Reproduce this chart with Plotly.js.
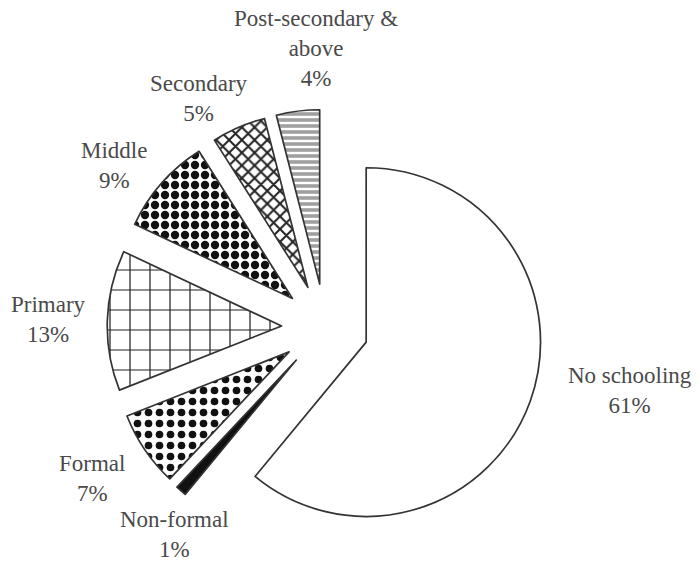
<!DOCTYPE html>
<html>
<head>
<meta charset="utf-8">
<script src="https://cdn.plot.ly/plotly-3.0.1.min.js"></script>
<style>html,body{margin:0;padding:0;background:#fff;}#chart{width:700px;height:561px;}</style>
</head>
<body>
<div id="chart"></div>
<script>
// Data
var categories = ["No schooling", "Non-formal", "Formal", "Primary", "Middle", "Secondary", "Post-secondary &<br>above"];
var shares = [61, 1, 7, 13, 9, 5, 4];

// Styles
var fills = ["#ffffff", "#111111", "#ffffff", "#ffffff", "#ffffff", "#ffffff", "#a0a0a0"];
var shapes = ["", "", ".", "+", ".", "x", "-"];
var fgColors = ["#000", "#000", "#111", "#222", "#111", "#222", "#ffffff"];
var sizes = [8, 8, 11, 20, 10, 9, 6];
var solidities = [0.3, 0.3, 0.38, 0.12, 0.55, 0.4, 0.4];
var pulls = [0.25, 0.25, 0.25, 0.25, 0.25, 0.25, 0.25];

// Label placement (paper pixels of each label's centre), layout only
var labelPx = [[630, 390], [174, 534], [92, 478], [48, 319], [114, 165], [199, 98], [316, 48]];

var W = 700, H = 561;
var fontFam = "Liberation Serif, DejaVu Serif, serif";

var trace = {
  type: "pie",
  labels: categories,
  values: shares,
  sort: false,
  direction: "clockwise",
  rotation: 0,
  pull: pulls,
  textinfo: "none",
  marker: {
    colors: fills,
    line: {color: "#333", width: 1.7},
    pattern: {shape: shapes, fgcolor: fgColors, bgcolor: fills, size: sizes, solidity: solidities, fillmode: "replace"}
  },
  domain: {x: [0.153, 0.776], y: [0.028, 0.805]},
  hoverinfo: "none"
};

var annotations = categories.map(function (c, i) {
  return {
    text: c + "<br>" + shares[i] + "%",
    xref: "paper", yref: "paper",
    x: labelPx[i][0] / W, y: 1 - labelPx[i][1] / H,
    xanchor: "center", yanchor: "middle",
    showarrow: false, align: "center",
    font: {family: fontFam, size: 23, color: "#4a4a4a"}
  };
});

var layout = {
  width: W, height: H,
  margin: {l: 0, r: 0, t: 0, b: 0},
  showlegend: false,
  paper_bgcolor: "#fff",
  font: {family: fontFam, color: "#4a4a4a"},
  annotations: annotations
};

Plotly.newPlot("chart", [trace], layout, {displayModeBar: false, staticPlot: true});
</script>
</body>
</html>
